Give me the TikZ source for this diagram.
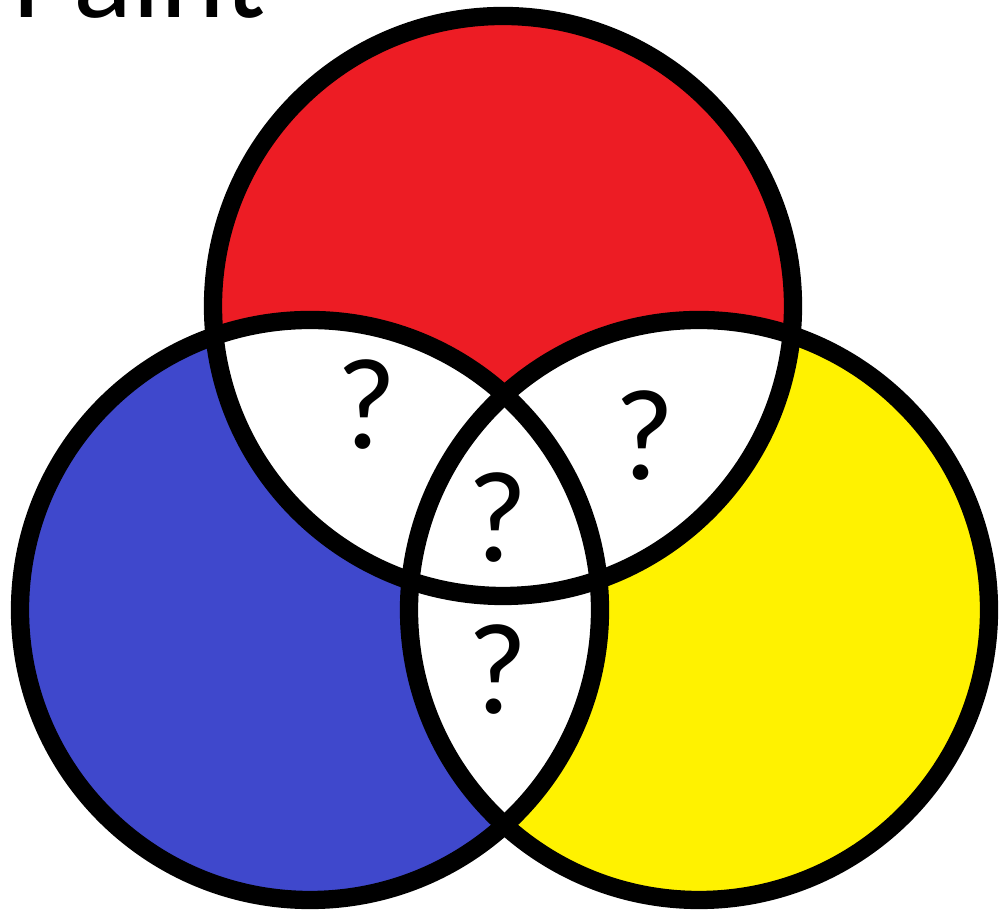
\documentclass[tikz,border=0pt]{standalone}
\usepackage{fontspec}
\setmainfont{Carlito}
\usetikzlibrary{positioning}
\definecolor{pRed}{HTML}{ED1C24}
\definecolor{pBlue}{HTML}{3F48CC}
\definecolor{pYellow}{HTML}{FFF200}

\begin{document}
\begin{tikzpicture}[
  ring/.style={draw=black, line width=5.2pt},
  qmark/.style={font=\fontsize{37}{40}\selectfont, inner sep=0pt},
  title/.style={font=\fontsize{35}{40}\selectfont, inner sep=0pt, anchor=base west}
]
 \useasboundingbox (0,0) rectangle (9.99,9.16);

 % Centres of the three circles
 \coordinate (cr) at (5.03,6.10);
 \coordinate (cb) at (3.10,3.06);
 \coordinate (cy) at (6.99,3.06);

 % Colour fills
 \fill[pRed]    (cr) circle (2.90);
 \fill[pBlue]   (cb) circle (2.90);
 \fill[pYellow] (cy) circle (2.90);

 % Overlaps in white
 \begin{scope}
  \clip (cr) circle (2.90);
  \fill[white] (cb) circle (2.90);
  \fill[white] (cy) circle (2.90);
 \end{scope}
 \begin{scope}
  \clip (cb) circle (2.90);
  \fill[white] (cy) circle (2.90);
 \end{scope}

 % Outlines
 \draw[ring] (cr) circle (2.90);
 \draw[ring] (cb) circle (2.90);
 \draw[ring] (cy) circle (2.90);

 % Title (cut off at the top)
 \node[title] (paint) at (0.12,8.98) {Paint};

 % Question marks
 \node[qmark] (q1) at (3.67,5.11) {?};
 \node[qmark] (q2) at (6.45,4.80) {?};
 \node[qmark] (q3) at (4.98,3.98) {?};
 \node[qmark] (q4) at (4.98,2.46) {?};
\end{tikzpicture}
\end{document}
